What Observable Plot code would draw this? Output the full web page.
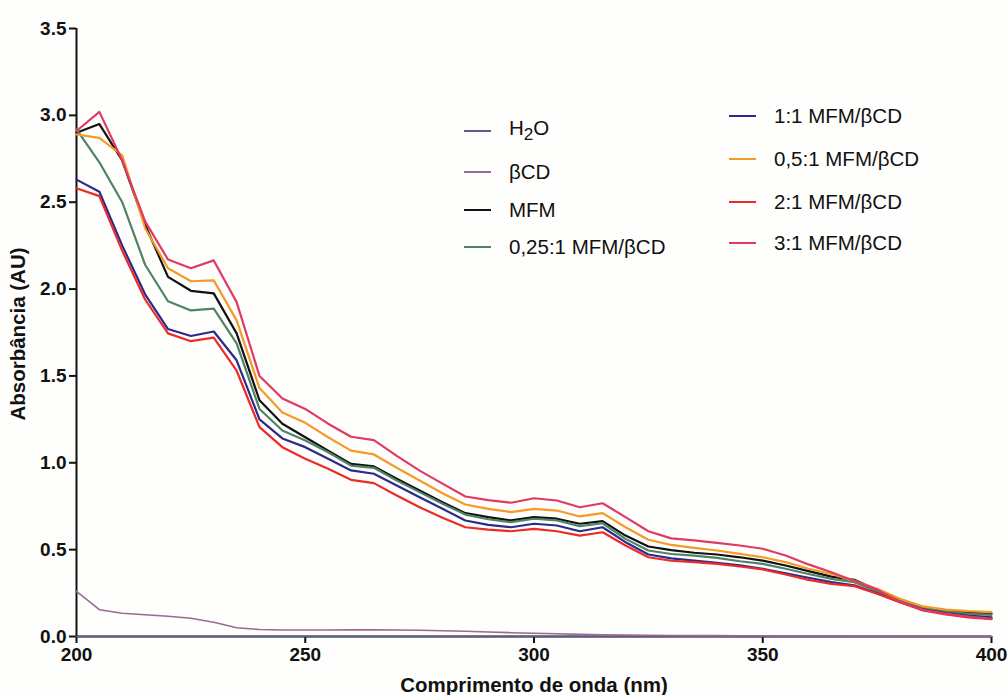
<!DOCTYPE html>
<html>
<head>
<meta charset="utf-8">
<script src="https://cdn.jsdelivr.net/npm/d3@7"></script>
<script src="https://cdn.jsdelivr.net/npm/@observablehq/plot@0.6"></script>
<style>
  body { margin: 0; background: #fefefc; }
  #wrap { position: relative; width: 1008px; height: 695px; font-family: "Liberation Sans", Arial, sans-serif; color: #111; }
  #wrap svg { position: absolute; left: 0; top: 0; }
  #wrap svg g[aria-label$="axis tick"] line,
  #wrap svg g[aria-label$="axis tick"] path,
  #wrap svg .tick line { stroke-width: 2px; }
  #wrap svg g[aria-label$="tick label"] text { font-size: 19px; }
  .title { position: absolute; font-weight: bold; font-size: 20.5px; white-space: nowrap; }
  .legend { position: absolute; font-size: 20.5px; }
  .legend .row { position: absolute; display: flex; align-items: center; white-space: nowrap; height: 24px; }
  .legend .sw { width: 27px; height: 0; border-top: 2px solid; margin-right: 18px; }
</style>
</head>
<body>
<div id="wrap"></div>
<script>
// Wavelengths (nm) at which absorbance was recorded
const wavelength = [200,205,210,215,220,225,230,235,240,245,250,255,260,265,270,275,280,285,290,295,
                    300,305,310,315,320,325,330,335,340,345,350,355,360,365,370,375,380,385,390,395,400];

// Absorbance (AU) for each sample
const h2o = [0,0,0,0,0,0,0,0,0,0,0,0,0,0,0,0,0,0,0,0,0,0,0,0,0,0,0,0,0,0,0,0,0,0,0,0,0,0,0,0,0];
const betaCD = [0.26,0.154,0.134,0.125,0.117,0.105,0.082,0.05,0.04,0.037,0.037,0.037,0.038,0.038,0.037,0.036,0.033,0.03,0.026,0.022,
                0.019,0.016,0.012,0.01,0.008,0.007,0.006,0.005,0.005,0.004,0.004,0.003,0.003,0.003,0.002,0.002,0.002,0.001,0.001,0.001,0.001];
const mfm = [2.90,2.95,2.74,2.37,2.07,1.99,1.975,1.745,1.36,1.225,1.147,1.07,0.994,0.979,0.908,0.84,0.773,0.71,0.687,0.668,
             0.687,0.678,0.649,0.664,0.581,0.518,0.497,0.482,0.472,0.456,0.437,0.409,0.376,0.345,0.326,0.269,0.213,0.169,0.15,0.138,0.131];
const mfm025 = [2.92,2.73,2.50,2.14,1.93,1.877,1.887,1.687,1.31,1.186,1.128,1.061,0.984,0.971,0.898,0.831,0.764,0.702,0.675,0.658,
                0.678,0.668,0.635,0.652,0.562,0.495,0.475,0.466,0.453,0.433,0.418,0.39,0.36,0.332,0.313,0.261,0.207,0.165,0.144,0.131,0.125];
const mfm1 = [2.63,2.56,2.25,1.97,1.77,1.73,1.756,1.59,1.25,1.14,1.09,1.023,0.956,0.937,0.869,0.802,0.735,0.668,0.643,0.629,
              0.649,0.639,0.606,0.629,0.543,0.472,0.45,0.437,0.424,0.409,0.39,0.364,0.338,0.313,0.295,0.249,0.197,0.156,0.135,0.12,0.11];
const mfm05 = [2.89,2.87,2.77,2.35,2.12,2.045,2.05,1.82,1.43,1.29,1.23,1.147,1.07,1.048,0.971,0.898,0.825,0.76,0.735,0.716,
               0.735,0.725,0.691,0.71,0.629,0.557,0.527,0.51,0.495,0.476,0.456,0.428,0.39,0.36,0.32,0.275,0.217,0.173,0.155,0.146,0.14];
const mfm2 = [2.58,2.535,2.22,1.94,1.745,1.70,1.72,1.53,1.205,1.09,1.023,0.965,0.902,0.883,0.812,0.744,0.683,0.629,0.615,0.606,
              0.62,0.606,0.581,0.60,0.524,0.456,0.436,0.428,0.418,0.403,0.386,0.357,0.326,0.303,0.29,0.246,0.197,0.15,0.127,0.11,0.1];
const mfm3 = [2.91,3.02,2.74,2.39,2.17,2.12,2.165,1.925,1.50,1.37,1.31,1.225,1.15,1.13,1.04,0.955,0.88,0.806,0.785,0.77,
              0.796,0.783,0.744,0.767,0.687,0.606,0.565,0.553,0.539,0.524,0.505,0.466,0.415,0.37,0.32,0.27,0.20,0.154,0.131,0.115,0.102];

// Series names, their legend labels (HTML) and colours
const seriesNames = ["H2O", "βCD", "MFM", "0,25:1 MFM/βCD", "1:1 MFM/βCD", "0,5:1 MFM/βCD", "2:1 MFM/βCD", "3:1 MFM/βCD"];
const seriesLabels = ["H<sub>2</sub>O", "βCD", "MFM", "0,25:1 MFM/βCD", "1:1 MFM/βCD", "0,5:1 MFM/βCD", "2:1 MFM/βCD", "3:1 MFM/βCD"];
const seriesValues = [h2o, betaCD, mfm, mfm025, mfm1, mfm05, mfm2, mfm3];
const seriesColors = ["#5d5b8e", "#9a6a93", "#111111", "#4f8366", "#2b2a8c", "#f59a26", "#ec2b27", "#e03a62"];

const xTicks = [200, 250, 300, 350, 400];
const yTicks = [0, 0.5, 1.0, 1.5, 2.0, 2.5, 3.0, 3.5];

// Long-format table for the line marks
const rows = seriesNames.flatMap((name, i) =>
  wavelength.map((w, j) => ({series: name, wavelength: w, absorbance: seriesValues[i][j]})));

const thin = new Set(["H2O", "βCD"]);

const chart = Plot.plot({
  width: 1008,
  height: 695,
  marginLeft: 76,
  marginRight: 17,
  marginTop: 28,
  marginBottom: 59,
  style: {background: "transparent", fontFamily: "'Liberation Sans', Arial, sans-serif", fontSize: "19px", fontWeight: "bold", color: "#111"},
  x: {domain: [200, 400], ticks: xTicks, tickSize: 7, tickPadding: 4, tickFormat: d3.format("d"), label: null},
  y: {domain: [0, 3.5], ticks: yTicks, tickSize: 7, tickPadding: 3, tickFormat: d3.format(".1f"), label: null},
  color: {domain: seriesNames, range: seriesColors},
  marks: [
    Plot.ruleX([200], {y1: 0, y2: 3.5, stroke: "#111", strokeWidth: 2}),
    Plot.ruleY([0], {x1: 200, x2: 400, stroke: "#111", strokeWidth: 2}),
    Plot.line(rows.filter(d => thin.has(d.series)), {x: "wavelength", y: "absorbance", z: "series", stroke: "series", strokeWidth: 1.6}),
    Plot.line(rows.filter(d => !thin.has(d.series)), {x: "wavelength", y: "absorbance", z: "series", stroke: "series", strokeWidth: 2.2})
  ]
});

const wrap = document.getElementById("wrap");
wrap.appendChild(chart);

// Axis titles
const xt = document.createElement("div");
xt.className = "title";
xt.textContent = "Comprimento de onda (nm)";
xt.style.left = "534px"; xt.style.top = "673px"; xt.style.transform = "translateX(-50%)";
wrap.appendChild(xt);

const yt = document.createElement("div");
yt.className = "title";
yt.textContent = "Absorbância (AU)";
yt.style.left = "18px"; yt.style.top = "334px"; yt.style.transform = "translate(-50%, -50%) rotate(-90deg)";
wrap.appendChild(yt);

// Two-column legend inside the plot area
const legend = document.createElement("div");
legend.className = "legend";
wrap.appendChild(legend);
const legendPos = [
  [464, 131], [464, 172], [464, 210], [464, 247],
  [729, 116], [729, 159], [729, 202], [729, 243]
];
seriesNames.forEach((name, i) => {
  const row = document.createElement("div");
  row.className = "row";
  row.style.left = legendPos[i][0] + "px";
  row.style.top = (legendPos[i][1] - 12) + "px";
  const sw = document.createElement("span");
  sw.className = "sw";
  sw.style.borderColor = seriesColors[i];
  const tx = document.createElement("span");
  tx.innerHTML = seriesLabels[i];
  row.appendChild(sw);
  row.appendChild(tx);
  legend.appendChild(row);
});
</script>
</body>
</html>
